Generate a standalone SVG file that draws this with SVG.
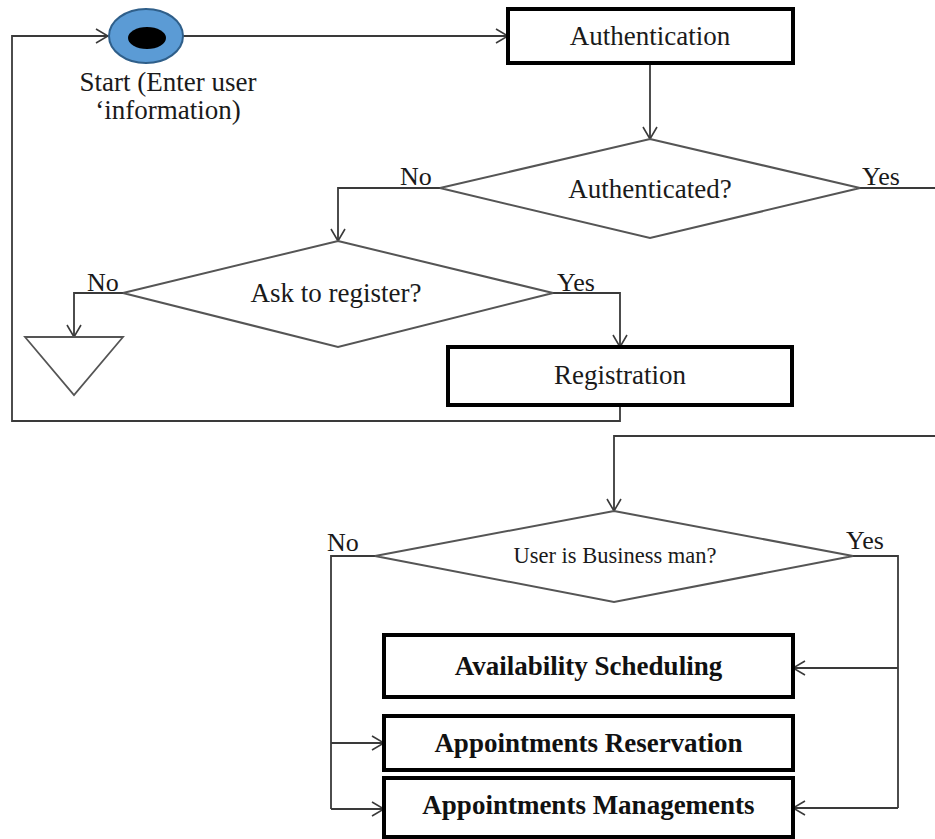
<svg xmlns="http://www.w3.org/2000/svg" width="935" height="839" viewBox="0 0 935 839">
<style>
  .lbl { font-family: "Liberation Serif", "Times New Roman", serif; font-size: 27px; fill: #1a1a1a; }
  .yn { font-family: "Liberation Serif", "Times New Roman", serif; font-size: 26px; fill: #1a1a1a; }
  .small { font-family: "Liberation Serif", "Times New Roman", serif; font-size: 22.5px; fill: #1a1a1a; }
  .bold { font-family: "Liberation Serif", "Times New Roman", serif; font-size: 27px; font-weight: bold; fill: #111; }
  .box { fill: #ffffff; stroke: #000000; stroke-width: 4; }
  .dia { fill: #ffffff; stroke: #555555; stroke-width: 2; }
  .conn { fill: none; stroke: #3a3a3a; stroke-width: 1.8; }
  .arr { marker-end: url(#arrow); }
</style>
<defs>
  <marker id="arrow" viewBox="0 0 14 16" refX="13" refY="8" markerWidth="14" markerHeight="16" markerUnits="userSpaceOnUse" orient="auto">
    <path d="M1,1 L13,8 L1,15" fill="none" stroke="#3a3a3a" stroke-width="1.6"/>
  </marker>
</defs>
<rect x="0" y="0" width="935" height="839" fill="#ffffff"/>

<g id="connectors">
  <path class="conn arr" d="M183,36 L508,36"/>
  <path class="conn arr" d="M650,63 L650,139"/>
  <path class="conn arr" d="M440,188 L338,188 L338,241"/>
  <path class="conn" d="M860,188 L935,188"/>
  <path class="conn arr" d="M123,293 L74,293 L74,337"/>
  <path class="conn arr" d="M553,293 L620,293 L620,347"/>
  <path class="conn arr" d="M620,405 L620,421 L12,421 L12,36 L108,36"/>
  <path class="conn arr" d="M935,436 L614,436 L614,511"/>
  <path class="conn" d="M375,556 L331,556 L331,809"/>
  <path class="conn arr" d="M331,743 L384,743"/>
  <path class="conn arr" d="M331,809 L384,809"/>
  <path class="conn" d="M853,556 L898,556 L898,808"/>
  <path class="conn arr" d="M898,668 L793,668"/>
  <path class="conn arr" d="M898,808 L793,808"/>
</g>

<g id="start">
  <ellipse cx="146" cy="36" rx="37" ry="27" fill="#5b9bd5" stroke="#2f5f8a" stroke-width="2"/>
  <ellipse cx="147" cy="38" rx="19" ry="11" fill="#000000"/>
  <text class="lbl" x="168" y="91" text-anchor="middle">Start (Enter user</text>
  <text class="lbl" x="168" y="119" text-anchor="middle">‘information)</text>
</g>

<g id="authentication">
  <rect class="box" x="508" y="9" width="285" height="54"/>
  <text class="lbl" x="650" y="45" text-anchor="middle">Authentication</text>
</g>

<g id="authenticated">
  <polygon class="dia" points="650,139 860,188 650,238 440,188"/>
  <text class="lbl" x="650" y="198" text-anchor="middle">Authenticated?</text>
  <text class="yn" x="400" y="185">No</text>
  <text class="yn" x="862" y="185">Yes</text>
</g>

<g id="ask-register">
  <polygon class="dia" points="338,241 553,293 338,347 123,293"/>
  <text class="lbl" x="336" y="302" text-anchor="middle">Ask to register?</text>
  <text class="yn" x="87" y="291">No</text>
  <text class="yn" x="557" y="291">Yes</text>
</g>

<g id="end">
  <polygon points="25,337 123,337 74,395" fill="#ffffff" stroke="#555555" stroke-width="1.8"/>
</g>

<g id="registration">
  <rect class="box" x="448" y="347" width="344" height="58"/>
  <text class="lbl" x="620" y="384" text-anchor="middle">Registration</text>
</g>

<g id="business-man">
  <polygon class="dia" points="614,511 853,556 614,602 375,556"/>
  <text class="small" x="615" y="563" text-anchor="middle">User is Business man?</text>
  <text class="yn" x="327" y="551">No</text>
  <text class="yn" x="846" y="549">Yes</text>
</g>

<g id="availability">
  <rect class="box" x="384" y="635" width="409" height="62"/>
  <text class="bold" x="588.5" y="675" text-anchor="middle">Availability Scheduling</text>
</g>

<g id="reservation">
  <rect class="box" x="384" y="716" width="409" height="54"/>
  <text class="bold" x="588.5" y="752" text-anchor="middle">Appointments Reservation</text>
</g>

<g id="managements">
  <rect class="box" x="384" y="778" width="409" height="59"/>
  <text class="bold" x="588.5" y="814" text-anchor="middle">Appointments Managements</text>
</g>
</svg>
